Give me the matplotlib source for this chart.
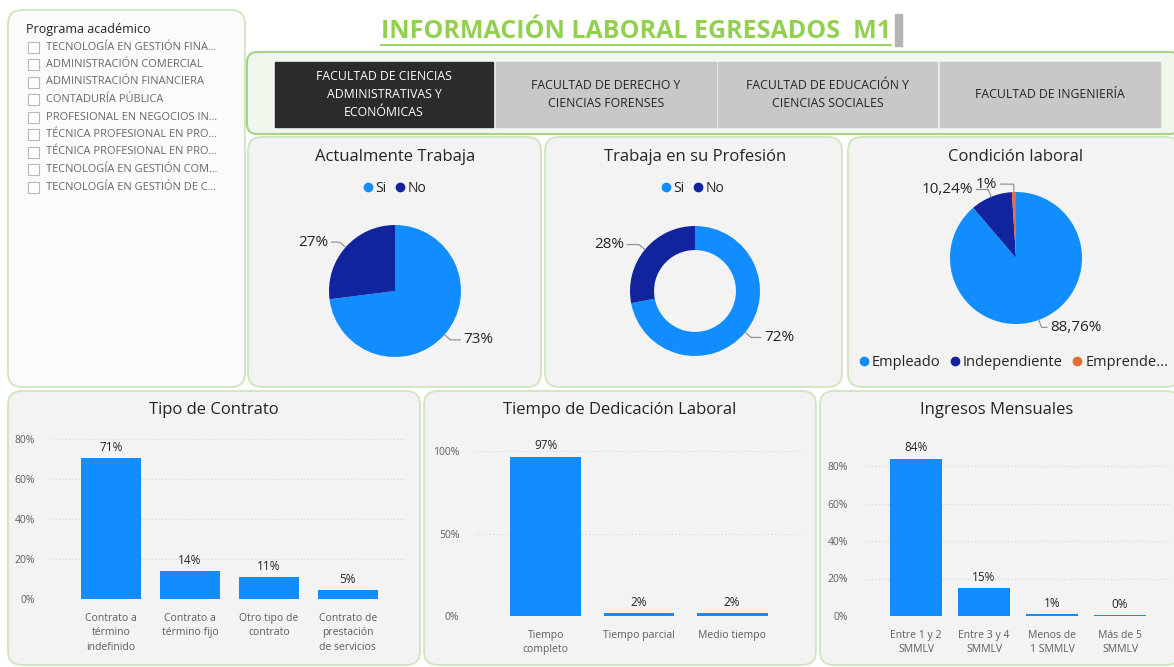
import matplotlib
matplotlib.use("Agg")
import matplotlib.pyplot as plt
from matplotlib.patches import FancyBboxPatch, Rectangle
from matplotlib.lines import Line2D
import numpy as np

plt.rcParams['font.family'] = ['Open Sans', 'DejaVu Sans']

# ---- data ----
programas = ["TECNOLOGÍA EN GESTIÓN FINA...", "ADMINISTRACIÓN COMERCIAL",
             "ADMINISTRACIÓN FINANCIERA", "CONTADURÍA PÚBLICA",
             "PROFESIONAL EN NEGOCIOS IN...", "TÉCNICA PROFESIONAL EN PRO...",
             "TÉCNICA PROFESIONAL EN PRO...", "TECNOLOGÍA EN GESTIÓN COM...",
             "TECNOLOGÍA EN GESTIÓN DE C..."]
facultades = ["FACULTAD DE CIENCIAS\nADMINISTRATIVAS Y\nECONÓMICAS",
              "FACULTAD DE DERECHO Y\nCIENCIAS FORENSES",
              "FACULTAD DE EDUCACIÓN Y\nCIENCIAS SOCIALES",
              "FACULTAD DE INGENIERÍA"]

trabaja_labels = ["Si", "No"]
trabaja_vals = [73, 27]
profesion_labels = ["Si", "No"]
profesion_vals = [72, 28]
condicion_labels = ["Empleado", "Independiente", "Emprende..."]
condicion_vals = [88.76, 10.24, 1.0]

contrato_cats = ["Contrato a\ntérmino\nindefinido", "Contrato a\ntérmino fijo",
                 "Otro tipo de\ncontrato", "Contrato de\nprestación\nde servicios"]
contrato_vals = [70.6, 13.8, 10.9, 4.7]
tiempo_cats = ["Tiempo\ncompleto", "Tiempo parcial", "Medio tiempo"]
tiempo_vals = [96.6, 1.7, 1.7]
ingresos_cats = ["Entre 1 y 2\nSMMLV", "Entre 3 y 4\nSMMLV", "Menos de\n1 SMMLV", "Más de 5\nSMMLV"]
ingresos_vals = [84.0, 14.7, 1.0, 0.3]

BLUE = '#118dff'
NAVY = '#12239e'
ORANGE = '#e66c37'
TXT = '#252423'
SUB = '#605e5c'
W, H = 1174, 667

fig = plt.figure(figsize=(W / 100, H / 100), dpi=100)
fig.patch.set_facecolor('white')
bg = fig.add_axes([0, 0, 1, 1])
bg.set_xlim(0, W)
bg.set_ylim(H, 0)
bg.axis('off')


def rect(x0, y0, x1, y1):
    return [x0 / W, 1 - y1 / H, (x1 - x0) / W, (y1 - y0) / H]


def panel(x0, y0, x1, y1, fc='#f3f3f3', ec='#cfe5c0', lw=1.3, r=14):
    bg.add_patch(FancyBboxPatch((x0, y0), x1 - x0, y1 - y0,
                                boxstyle=f"round,pad=0,rounding_size={r}",
                                fc=fc, ec=ec, lw=lw))


# panels
panel(8, 10, 245, 387, fc='#fbfbfb')
panel(247, 52, 1180, 134, fc='#f0f7ec', ec='#a9d18e', lw=1.5, r=10)
panel(248, 137, 541, 387)
panel(545, 137, 842, 387)
panel(848, 137, 1180, 387)
panel(8, 391, 420, 665)
panel(424, 391, 816, 665)
panel(820, 391, 1180, 665)

# title
t = bg.text(636, 32, "INFORMACIÓN LABORAL EGRESADOS  M1", ha='center', va='center',
            fontsize=18, fontweight='bold', color='#92d050')
fig.canvas.draw()
bb = t.get_window_extent()
bg.plot([bb.x0, bb.x1], [45, 45], color='#92d050', lw=1.3)
bg.add_patch(Rectangle((bb.x1 + 4, 14), 7, 32, color='#b4b4b4'))

# slicer
bg.text(26, 29, "Programa académico", fontsize=9, color=TXT, va='center')
for i, p in enumerate(programas):
    y = 47 + i * 17.5
    bg.add_patch(Rectangle((28, y - 5.5), 11, 11, fc='white', ec='#b8b8b8', lw=0.8))
    bg.text(46, y, p, fontsize=7.9, color='#666666', va='center')

# faculty buttons
bx = [(275, 493), (496, 716), (718, 937), (940, 1160)]
for i, (f, (x0, x1)) in enumerate(zip(facultades, bx)):
    sel = i == 0
    bg.add_patch(Rectangle((x0, 62), x1 - x0, 65, color='#2b2b2b' if sel else '#c8c8c8'))
    bg.text((x0 + x1) / 2, 94.5, f, ha='center', va='center', fontsize=8.8,
            color='white' if sel else TXT, linespacing=1.45)

# panel titles
for x, y, s in [(395, 157, "Actualmente Trabaja"), (695, 157, "Trabaja en su Profesión"),
                (1016, 157, "Condición laboral"), (214, 410, "Tipo de Contrato"),
                (620, 410, "Tiempo de Dedicación Laboral"), (997, 410, "Ingresos Mensuales")]:
    bg.text(x, y, s, ha='center', va='center', fontsize=12, color=TXT)


def pie_panel(cx, cy, r, vals, labels, texts, colors, arms, hole=None):
    s = 1.7
    ax = fig.add_axes(rect(cx - r * s, cy - r * s, cx + r * s, cy + r * s))
    wp = dict(lw=0)
    if hole:
        wp['width'] = hole
    ax.pie(vals, colors=colors, startangle=90, counterclock=False, radius=1,
           wedgeprops=wp)
    ax.set_xlim(-s, s)
    ax.set_ylim(-s, s)
    ax.axis('off')
    total = sum(vals)
    cum = 0
    for v, tx, arm in zip(vals, texts, arms):
        th = np.deg2rad(90 - 360 * (cum + v / 2) / total)
        cum += v
        x, y = np.cos(th), np.sin(th)
        side = 1 if x >= 0 else -1
        ex, ey = 1.12 * x, 1.12 * y
        hx = ex + side * arm
        ax.plot([x, ex, hx], [y, ey, ey], color='#8a8a8a', lw=0.8)
        ax.text(hx + side * 0.05, ey, tx, ha='left' if side > 0 else 'right',
                va='center', fontsize=11, color=TXT)
    return ax


def pct(v):
    return f"{v:.0f}%" if float(v).is_integer() else f"{v:.2f}%".replace('.', ',')


def legend(ax, labels, colors, x, y, fs):
    hs = [Line2D([], [], ls='', marker='o', ms=6, color=c) for c in colors]
    ax.legend(hs, labels, loc='center', bbox_to_anchor=(x / W, 1 - y / H),
              bbox_transform=fig.transFigure, ncol=len(labels), frameon=False,
              handlelength=0.6, handletextpad=0.25, columnspacing=0.7,
              fontsize=fs, labelcolor=TXT)


a1 = pie_panel(395, 291, 66, trabaja_vals, trabaja_labels, [pct(v) for v in trabaja_vals],
               [BLUE, NAVY], [0.15, 0.12])
legend(a1, trabaja_labels, [BLUE, NAVY], 395, 188, 10)
a2 = pie_panel(695, 291, 65, profesion_vals, profesion_labels, [pct(v) for v in profesion_vals],
               [BLUE, NAVY], [0.15, 0.18], hole=0.37)
legend(a2, profesion_labels, [BLUE, NAVY], 693, 188, 10)
a3 = pie_panel(1016, 258, 66, condicion_vals, condicion_labels, [pct(v) for v in condicion_vals],
               [BLUE, NAVY, ORANGE], [0.08, 0.18, 0.2])
legend(a3, condicion_labels, [BLUE, NAVY, ORANGE], 1014, 363, 10.5)


def bar_panel(x0, y0, x1, y1, cats, vals, ymax, ticks):
    ax = fig.add_axes(rect(x0, y0, x1, y1))
    ax.set_facecolor('none')
    x = np.arange(len(cats))
    ax.bar(x, vals, width=0.76, color=BLUE, clip_on=False)
    for xi, v in zip(x, vals):
        ax.text(xi, v + ymax * 0.025, f"{round(v)}%", ha='center', va='bottom',
                fontsize=8.5, color=TXT)
    ax.set_xlim(-0.75, len(cats) - 0.25)
    ax.set_ylim(0, ymax)
    ax.set_yticks(ticks)
    ax.set_yticklabels([f"{t}%" for t in ticks])
    ax.set_xticks(x)
    ax.set_xticklabels(cats, linespacing=1.45, fontsize=8)
    ax.tick_params(length=0, labelsize=7.5, colors=SUB, pad=10)
    ax.tick_params(axis='y', pad=12)
    ax.grid(axis='y', color='#d8d8d8', ls=':', lw=0.9)
    ax.set_axisbelow(True)
    for s in ax.spines.values():
        s.set_visible(False)
    return ax


bar_panel(52, 439, 407, 599, contrato_cats, contrato_vals, 80, [0, 20, 40, 60, 80])
bar_panel(476, 451, 802, 616, tiempo_cats, tiempo_vals, 100, [0, 50, 100])
bar_panel(865, 451, 1171, 616, ingresos_cats, ingresos_vals, 88, [0, 20, 40, 60, 80])

fig.savefig("out.png", dpi=100, facecolor='white')
